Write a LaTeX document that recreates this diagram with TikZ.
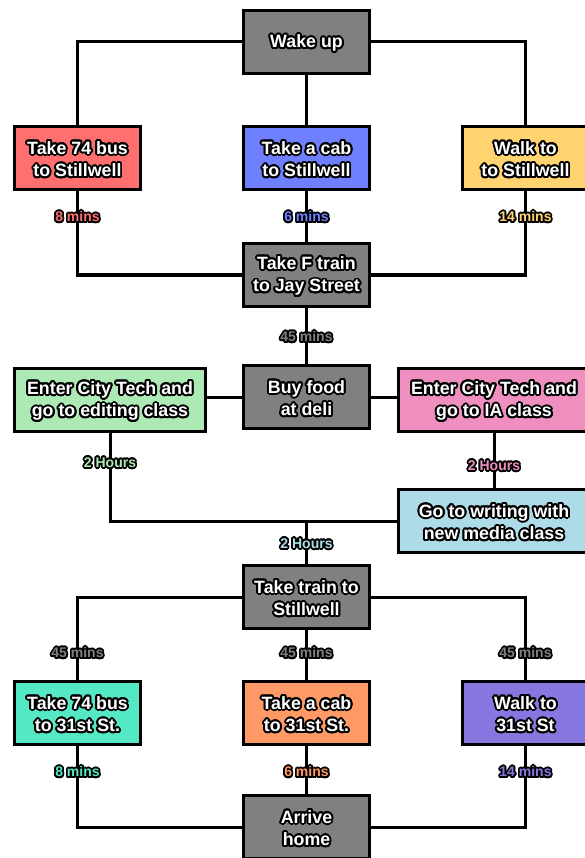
\documentclass[tikz,border=0pt]{standalone}
\usepackage{fontspec}
\setmainfont{Liberation Sans}
\usepackage[copies]{contour}
\contourlength{1.9pt}
\contournumber{20}
\definecolor{busred}{HTML}{FF6F6F}
\definecolor{cabblue}{HTML}{6F80FF}
\definecolor{walkyellow}{HTML}{FFD36F}
\definecolor{editgreen}{HTML}{ACE9B4}
\definecolor{iapink}{HTML}{EE8FC0}
\definecolor{writeblue}{HTML}{ADDCE8}
\definecolor{busteal}{HTML}{55E8C5}
\definecolor{caborange}{HTML}{FF9966}
\definecolor{walkpurple}{HTML}{8577DF}
\definecolor{stepgray}{HTML}{808080}
\newcommand\txtdrop{2pt}
\newcommand\boxfont{\fontsize{17.8}{22.5}\selectfont\bfseries}
\newcommand\lblfont{\fontsize{14}{16}\selectfont\bfseries\contourlength{1.7pt}\renewcommand\txtdrop{0.5pt}}
\newcommand\outl[1]{\raisebox{-\txtdrop}[\height][\depth]{\contour{black}{#1}}}
\tikzset{
  box/.style={draw=black, line width=3pt, fill=#1, minimum width=126pt, minimum height=63pt,
    text=white, align=center, font=\boxfont, inner sep=0pt},
  widebox/.style={box=#1, minimum width=191pt},
  lbl/.style={text=#1, font=\lblfont, inner sep=0pt},
  link/.style={line width=3pt, draw=black}
}
\begin{document}
\begin{tikzpicture}[x=1pt, y=-1pt]
  \useasboundingbox[fill=white] (0,0) rectangle (585,858);
  % boxes
  \node[box=stepgray] (wake) at (306.5,42) {\outl{Wake up}};
  \node[box=busred] (bus1) at (77.5,158) {\outl{Take 74 bus}\\\outl{to Stillwell}};
  \node[box=cabblue] (cab1) at (306.5,158) {\outl{Take a cab}\\\outl{to Stillwell}};
  \node[box=walkyellow] (walk1) at (525.5,158) {\outl{Walk to}\\\outl{to Stillwell}};
  \node[box=stepgray] (ftrain) at (306.5,275) {\outl{Take F train}\\\outl{to Jay Street}};
  \node[box=stepgray] (deli) at (306.5,397) {\outl{Buy food}\\\outl{at deli}};
  \node[widebox=editgreen] (edit) at (110,400) {\outl{Enter City Tech and}\\\outl{go to editing class}};
  \node[widebox=iapink] (ia) at (494,400) {\outl{Enter City Tech and}\\\outl{go to IA class}};
  \node[widebox=writeblue] (writing) at (494,521) {\outl{Go to writing with}\\\outl{new media class}};
  \node[box=stepgray] (train) at (306.5,597) {\outl{Take train to}\\\outl{Stillwell}};
  \node[box=busteal] (bus2) at (77.5,713) {\outl{Take 74 bus}\\\outl{to 31st St.}};
  \node[box=caborange] (cab2) at (306.5,713) {\outl{Take a cab}\\\outl{to 31st St.}};
  \node[box=walkpurple] (walk2) at (525.5,713) {\outl{Walk to}\\\outl{31st St}};
  \node[box=stepgray] (home) at (306.5,827) {\outl{Arrive}\\\outl{home}};
  \coordinate (jn) at (train.north |- writing.west);
  % connectors
  \draw[link] (wake.west) -| (bus1.north);
  \draw[link] (wake.south) -- (cab1.north);
  \draw[link] (wake.east) -| (walk1.north);
  \draw[link] (bus1.south) |- (ftrain.west);
  \draw[link] (cab1.south) -- (ftrain.north);
  \draw[link] (walk1.south) |- (ftrain.east);
  \draw[link] (ftrain.south) -- (deli.north);
  \draw[link] (deli.west) -- (deli.west -| edit.east);
  \draw[link] (deli.east) -- (deli.east -| ia.west);
  \draw[link] (edit.south) |- (writing.west);
  \draw[link] (ia.south) -- (writing.north);
  \draw[link] (jn) -- (train.north);
  \draw[link] (train.west) -| (bus2.north);
  \draw[link] (train.south) -- (cab2.north);
  \draw[link] (train.east) -| (walk2.north);
  \draw[link] (bus2.south) |- (home.west);
  \draw[link] (cab2.south) -- (home.north);
  \draw[link] (walk2.south) |- (home.east);
  % times
  \node[lbl=busred] (t1) at ([yshift=-26pt]bus1.south) {\outl{8 mins}};
  \node[lbl=cabblue] (t2) at ([yshift=-26pt]cab1.south) {\outl{6 mins}};
  \node[lbl=walkyellow] (t3) at ([yshift=-26pt]walk1.south) {\outl{14 mins}};
  \node[lbl=stepgray] (t4) at ([yshift=-29pt]ftrain.south) {\outl{45 mins}};
  \node[lbl=editgreen] (t5) at ([yshift=-30pt]edit.south) {\outl{2 Hours}};
  \node[lbl=iapink] (t6) at ([yshift=-33pt]ia.south) {\outl{2 Hours}};
  \node[lbl=writeblue] (t7) at ([yshift=-23pt]jn) {\outl{2 Hours}};
  \node[lbl=stepgray] (t8) at ([yshift=27pt]bus2.north) {\outl{45 mins}};
  \node[lbl=stepgray] (t9) at ([yshift=27pt]cab2.north) {\outl{45 mins}};
  \node[lbl=stepgray] (t10) at ([yshift=27pt]walk2.north) {\outl{45 mins}};
  \node[lbl=busteal] (t11) at ([yshift=-26pt]bus2.south) {\outl{8 mins}};
  \node[lbl=caborange] (t12) at ([yshift=-26pt]cab2.south) {\outl{6 mins}};
  \node[lbl=walkpurple] (t13) at ([yshift=-26pt]walk2.south) {\outl{14 mins}};
\end{tikzpicture}
\end{document}
